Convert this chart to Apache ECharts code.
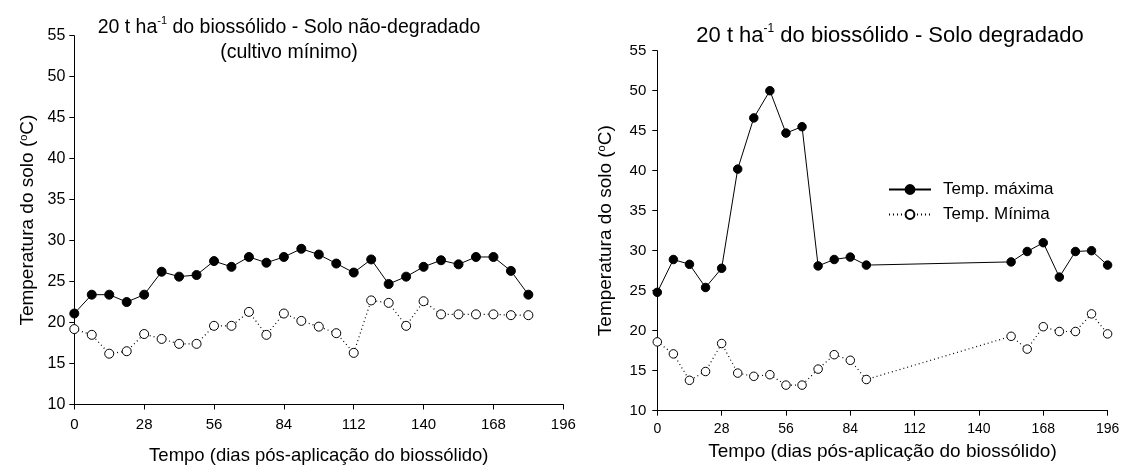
<!DOCTYPE html>
<html><head><meta charset="utf-8">
<script src="https://cdn.jsdelivr.net/npm/echarts@6/dist/echarts.min.js"></script>
<style>html,body{margin:0;padding:0;background:#fff}#c{width:1123px;height:465px}</style>
</head><body><div id="c"></div>
<script>
const daysLeft = [0,7,14,21,28,35,42,49,56,63,70,77,84,91,98,105,112,119,126,133,140,147,154,161,168,175,182];
const maxLeft  = [21.1,23.4,23.4,22.5,23.4,26.2,25.6,25.8,27.5,26.8,28.0,27.3,28.0,29.0,28.3,27.2,26.1,27.7,24.7,25.6,26.8,27.6,27.1,28.0,28.0,26.3,23.4];
const minLeft  = [19.2,18.5,16.2,16.5,18.6,18.0,17.4,17.4,19.6,19.6,21.3,18.5,21.1,20.2,19.5,18.7,16.3,22.7,22.4,19.6,22.6,21.0,21.0,21.0,21.0,20.9,20.9];
const daysRight = [0,7,14,21,28,35,42,49,56,63,70,77,84,91,154,161,168,175,182,189,196];
const maxRight  = [24.8,28.9,28.3,25.4,27.8,40.2,46.6,50.0,44.7,45.5,28.1,28.9,29.2,28.2,28.6,29.9,31.0,26.7,29.9,30.0,28.2];
const minRight  = [18.6,17.1,13.8,14.9,18.4,14.7,14.3,14.5,13.2,13.2,15.2,17.0,16.3,13.9,19.3,17.7,20.5,19.9,19.9,22.1,19.6];
const xTickLabels = [0,28,56,84,112,140,168,196];
const yTickLabels = [10,15,20,25,30,35,40,45,50,55];
const seriesNames = ['Temp. máxima', 'Temp. Mínima'];
const titleLeft = '20 t ha{sup|-1} do biossólido - Solo não-degradado\n(cultivo mínimo)';
const titleRight = '20 t ha{sup|-1} do biossólido - Solo degradado';
const xName = 'Tempo (dias pós-aplicação do biossólido)';
const yName = 'Temperatura do solo ({sup|o}C)';

const FONT = '"Liberation Sans", Arial, Helvetica, sans-serif';
const pairs = (xs, ys) => xs.map((x, i) => [x, ys[i]]);

function xAxisCfg(gridIndex, labelSize, labelMargin, nameGap, nameSize) {
  return {
    type: 'value', gridIndex, min: xTickLabels[0], max: xTickLabels[xTickLabels.length-1], interval: 28,
    splitLine: {show: false},
    axisLine: {lineStyle: {color: '#000', width: 1}},
    axisTick: {show: true, inside: false, length: 5, lineStyle: {color: '#000'}},
    axisLabel: {color: '#000', fontSize: labelSize, fontFamily: FONT, margin: labelMargin},
    name: xName, nameLocation: 'middle', nameGap,
    nameTextStyle: {color: '#000', fontSize: nameSize, fontFamily: FONT}
  };
}
function yAxisCfg(gridIndex, labelSize, labelMargin, nameGap, nameSize) {
  return {
    type: 'value', gridIndex, min: yTickLabels[0], max: yTickLabels[yTickLabels.length-1], interval: 5,
    splitLine: {show: false},
    axisLine: {show: true, lineStyle: {color: '#000', width: 1}},
    axisTick: {show: true, inside: false, length: 5, lineStyle: {color: '#000'}},
    axisLabel: {color: '#000', fontSize: labelSize, fontFamily: FONT, margin: labelMargin},
    name: yName, nameLocation: 'middle', nameGap, nameRotate: 90,
    nameTextStyle: {color: '#000', fontSize: nameSize, fontFamily: FONT,
      rich: {sup: {fontSize: Math.round(nameSize*0.6), verticalAlign: 'top', fontFamily: FONT, color: '#000'}}}
  };
}
function maxSeries(idx, xs, ys, size) {
  return {
    name: seriesNames[0], type: 'line', xAxisIndex: idx, yAxisIndex: idx,
    data: pairs(xs, ys), symbol: 'circle', symbolSize: size, z: 3,
    itemStyle: {color: '#000', borderColor: '#000', borderWidth: 1},
    lineStyle: {color: '#000', width: 1, type: 'solid'},
    emphasis: {disabled: true}, animation: false
  };
}
function minSeries(idx, xs, ys, size) {
  return {
    name: seriesNames[1], type: 'line', xAxisIndex: idx, yAxisIndex: idx,
    data: pairs(xs, ys), symbol: 'circle', symbolSize: size, z: 3,
    itemStyle: {color: '#fff', borderColor: '#000', borderWidth: 1},
    lineStyle: {color: '#000', width: 1.2, type: [1, 3]},
    emphasis: {disabled: true}, animation: false
  };
}

const chart = echarts.init(document.getElementById('c'), null, {renderer: 'canvas'});
chart.setOption({
  backgroundColor: '#fff',
  animation: false,
  title: [
    {text: titleLeft, left: 284, top: 10, textAlign: 'center',
     textStyle: {color: '#000', fontSize: 19.5, fontWeight: 'normal', fontFamily: FONT, lineHeight: 25,
       rich: {sup: {fontSize: 11, verticalAlign: 'top', lineHeight: 25, color: '#000', fontFamily: FONT}}}},
    {text: titleRight, left: 885, top: 18, textAlign: 'center',
     textStyle: {color: '#000', fontSize: 22, fontWeight: 'normal', fontFamily: FONT, lineHeight: 26,
       rich: {sup: {fontSize: 12, verticalAlign: 'top', lineHeight: 26, color: '#000', fontFamily: FONT}}}}
  ],
  legend: {
    data: seriesNames, orient: 'vertical', left: 883, top: 176,
    itemWidth: 42, itemHeight: 11, itemGap: 8,
    textStyle: {color: '#000', fontSize: 17, fontFamily: FONT, padding: [0,0,0,7]},
    selectedMode: false
  },
  grid: [
    {left: 74.3, top: 35.7, width: 489, height: 368.8, containLabel: false, outerBoundsMode: 'none'},
    {left: 657.3, top: 50.7, width: 450.3, height: 360, containLabel: false, outerBoundsMode: 'none'}
  ],
  xAxis: [xAxisCfg(0, 15, 13, 42, 18.5), xAxisCfg(1, 14, 11, 32, 19)],
  yAxis: [yAxisCfg(0, 16, 9, 37, 19), yAxisCfg(1, 15, 11, 42, 19)],
  series: [
    maxSeries(0, daysLeft, maxLeft, 9), minSeries(0, daysLeft, minLeft, 9),
    maxSeries(1, daysRight, maxRight, 8.5), minSeries(1, daysRight, minRight, 8.5)
  ]
});
</script></body></html>
